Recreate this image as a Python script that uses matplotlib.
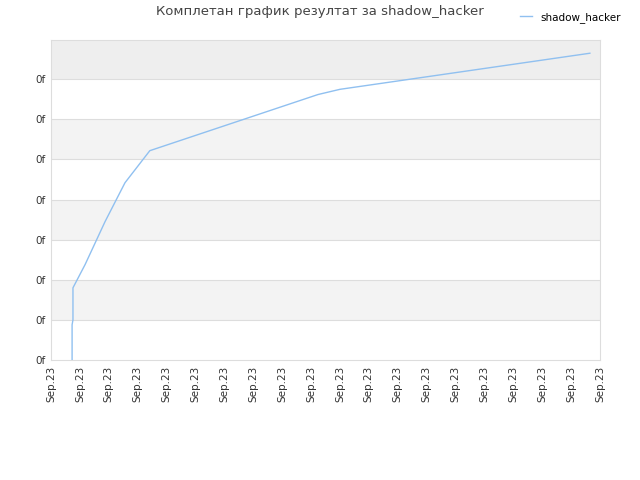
import matplotlib
matplotlib.use("Agg")
import matplotlib.pyplot as plt

# x in tick units (20 ticks, 0..19), y in grid units
xs = [0.73, 0.73, 0.76, 0.76, 1.18, 1.87, 2.56, 3.42, 9.24, 10.0, 18.65]
ys = [0.0, 0.88, 1.0, 1.8, 2.38, 3.45, 4.42, 5.22, 6.62, 6.75, 7.65]
tick_labels = ["Sep.23"] * 20
y_labels = ["0f"] * 8

fig = plt.figure(figsize=(6.4, 4.8), dpi=100)
ax = fig.add_axes([51/640, 1-360/480, 549/640, 320/480])
ymax = 7.98
for i in range(8):
    top = min(i + 1, ymax)
    col = "#eeeeee" if i == 7 else ("#f3f3f3" if i % 2 == 1 else "#ffffff")
    ax.axhspan(i, top, color=col, zorder=0, lw=0)
for i in range(1, 8):
    ax.axhline(i, color="#dddddd", lw=0.8, zorder=1)

ax.plot(xs, ys, color="#90c0f0", lw=1.0, label="shadow_hacker", zorder=3)
ax.set_xlim(0, 19)
ax.set_ylim(0, ymax)
ax.set_xticks(range(20))
ax.set_xticklabels(tick_labels, rotation=90, fontsize=7.5, color="#333333")
ax.set_yticks(range(8))
ax.set_yticklabels(y_labels, fontsize=7.5, color="#333333")
ax.tick_params(length=0, pad=4)
for s in ax.spines.values():
    s.set_color("#dddddd")

fig.text(0.5, 1-12/480, "Комплетан график резултат за shadow_hacker",
         ha="center", va="center", fontsize=9.5, color="#444444")
fig.legend(loc="upper right", bbox_to_anchor=(0.985, 0.995), frameon=False,
           fontsize=7.5, handlelength=1.2)
fig.savefig("out.png", dpi=100)
